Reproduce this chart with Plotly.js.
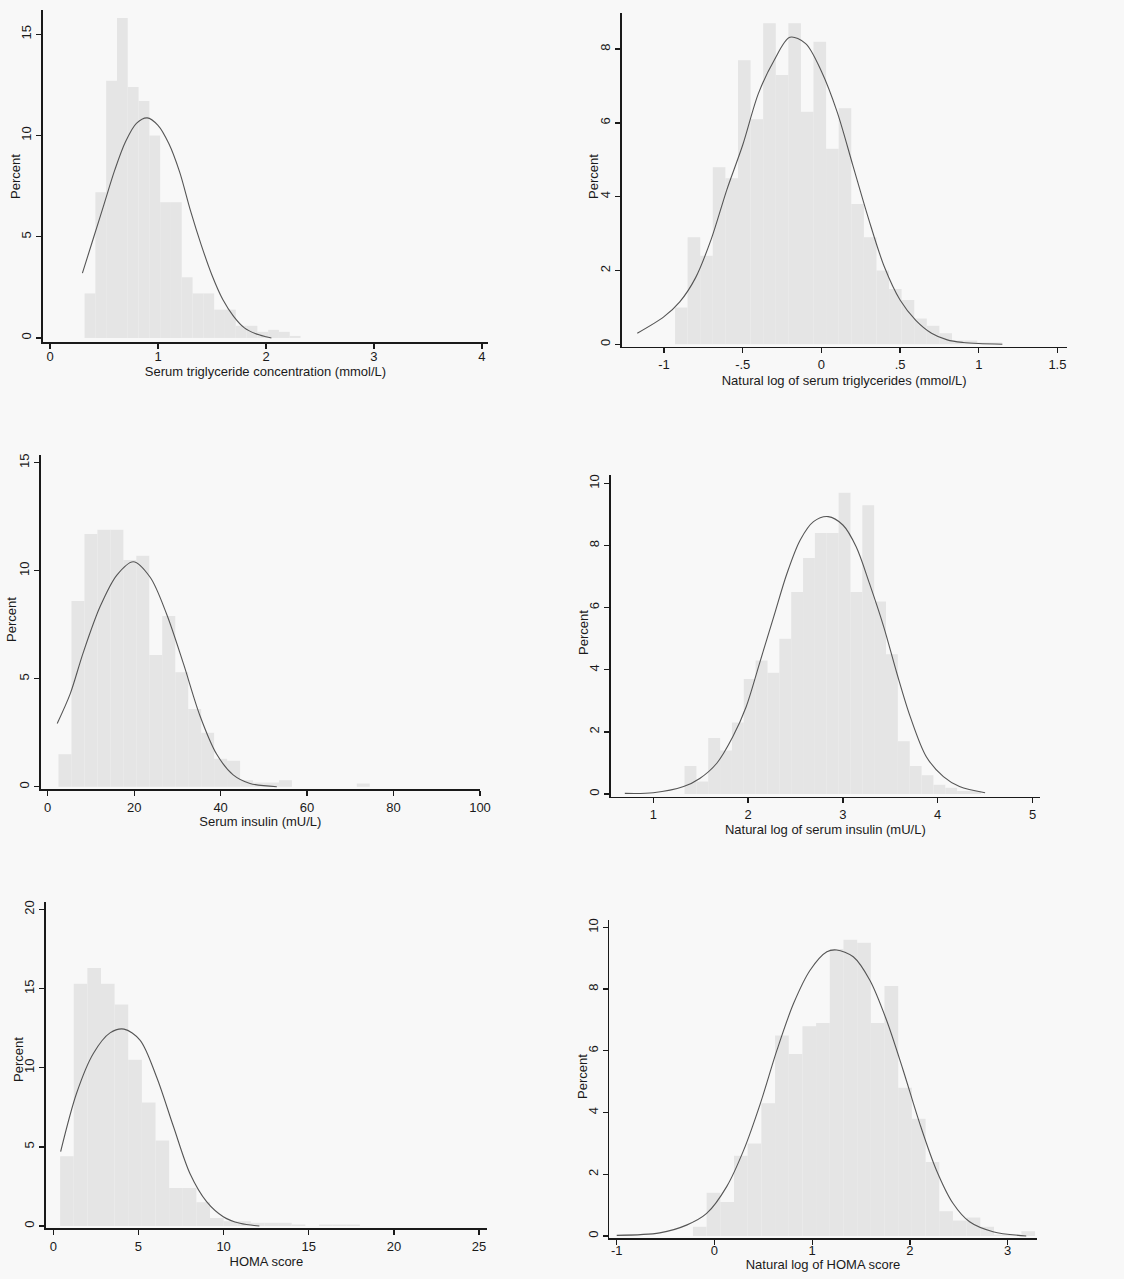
<!DOCTYPE html>
<html>
<head>
<meta charset="utf-8">
<script src="https://cdn.plot.ly/plotly-3.0.1.min.js"></script>
<style>
  html, body { margin: 0; padding: 0; background: #f8f8f8; }
  #chart { width: 1124px; height: 1279px; }
</style>
</head>
<body>
<div id="chart"></div>
<script>
// ---------- DATA ----------
// Panel 1: Serum triglyceride concentration (mmol/L)
const tgBinLeft  = [0.32,0.42,0.52,0.62,0.72,0.82,0.92,1.02,1.12,1.22,1.32,1.42,1.52,1.62,1.72,1.82,1.92,2.02,2.12,2.22];
const tgBinWidth = 0.1;
const tgPct      = [2.2,7.2,12.7,15.8,12.4,11.7,10.0,6.7,6.7,3.0,2.2,2.2,1.4,1.4,0.6,0.6,0.3,0.4,0.3,0.1];
const tgCurveX   = [0.3,0.4,0.5,0.6,0.7,0.8,0.9,1.0,1.1,1.2,1.3,1.4,1.5,1.6,1.7,1.8,1.9,2.0,2.05];
const tgCurveY   = [3.2,4.9,6.6,8.3,9.7,10.6,10.87,10.5,9.6,8.2,6.3,4.6,3.1,1.9,1.07,0.5,0.22,0.06,0.0];

// Panel 2: Natural log of serum triglycerides (mmol/L)
const lnTgBinLeft  = [-0.93,-0.85,-0.77,-0.69,-0.61,-0.53,-0.45,-0.37,-0.29,-0.21,-0.13,-0.05,0.03,0.11,0.19,0.27,0.35,0.43,0.51,0.59,0.67,0.75,0.83,0.91,0.99,1.07];
const lnTgBinWidth = 0.08;
const lnTgPct      = [1.0,2.9,2.4,4.8,4.5,7.7,6.1,8.7,7.3,8.7,6.3,8.2,5.3,6.4,3.8,2.9,2.0,1.5,1.2,0.7,0.5,0.3,0.1,0.1,0.05,0.05];
const lnTgCurveX   = [-1.17,-1.0,-0.9,-0.8,-0.7,-0.6,-0.5,-0.4,-0.3,-0.2,-0.1,0.0,0.1,0.2,0.3,0.4,0.5,0.6,0.7,0.8,0.9,1.0,1.15];
const lnTgCurveY   = [0.30,0.75,1.15,1.8,2.85,4.2,5.4,6.8,7.7,8.32,8.15,7.4,6.3,4.85,3.4,2.1,1.2,0.65,0.3,0.12,0.05,0.02,0.0];

// Panel 3: Serum insulin (mU/L)
const insBinLeft  = [2.5,5.5,8.5,11.5,14.5,17.5,20.5,23.5,26.5,29.5,32.5,35.5,38.5,41.5,44.5,47.5,50.5,53.5,56.5,59.5,62.5,65.5,68.5,71.5];
const insBinWidth = 3;
const insPct      = [1.5,8.6,11.7,11.9,11.9,10.5,10.7,6.1,7.9,5.3,3.6,2.5,1.3,1.2,0.3,0.2,0.2,0.3,0,0,0,0,0,0.15];
const insCurveX   = [2.2,5.2,8.2,12.1,16.0,19.8,23.7,27.5,31.4,35.2,39.1,42.9,46.8,53.0];
const insCurveY   = [2.93,4.3,6.2,8.33,9.8,10.42,9.7,8.0,5.7,3.3,1.5,0.55,0.15,0.0];

// Panel 4: Natural log of serum insulin (mU/L)
const lnInsBinLeft  = [1.33,1.455,1.58,1.705,1.83,1.955,2.08,2.205,2.33,2.455,2.58,2.705,2.83,2.955,3.08,3.205,3.33,3.455,3.58,3.705,3.83,3.955,4.08,4.205,4.33];
const lnInsBinWidth = 0.125;
const lnInsPct      = [0.9,0.4,1.8,1.4,2.3,3.7,4.3,3.9,5.0,6.5,7.6,8.4,8.4,9.7,6.5,9.3,6.2,4.5,1.7,0.9,0.6,0.3,0.2,0.1,0.1];
const lnInsCurveX   = [0.7,1.0,1.32,1.49,1.67,1.84,1.98,2.12,2.27,2.41,2.55,2.69,2.845,3.0,3.14,3.28,3.43,3.57,3.71,3.88,4.06,4.23,4.5];
const lnInsCurveY   = [0.02,0.04,0.24,0.5,0.99,1.85,2.81,4.2,5.7,7.1,8.18,8.77,8.93,8.66,7.96,6.78,5.39,3.88,2.49,1.2,0.56,0.24,0.04];

// Panel 5: HOMA score
const homaBinLeft  = [0.4,1.2,2.0,2.8,3.6,4.4,5.2,6.0,6.8,7.6,8.4,9.2,10.0,10.8,11.6,12.4,13.2,14.0,14.8,15.6,16.4,17.2];
const homaBinWidth = 0.8;
const homaPct      = [4.4,15.3,16.3,15.3,14.0,10.5,7.8,5.4,2.4,2.4,1.5,0.5,0.3,0.3,0.2,0.2,0.2,0.1,0,0.1,0.1,0.1];
const homaCurveX   = [0.43,1.37,2.35,3.33,4.15,5.09,6.07,7.05,8.03,9.0,9.98,10.96,12.1];
const homaCurveY   = [4.7,8.4,10.9,12.2,12.44,11.75,9.4,6.3,3.3,1.54,0.59,0.17,0.0];

// Panel 6: Natural log of HOMA score
const lnHomaBinLeft  = [-0.22,-0.08,0.06,0.2,0.34,0.48,0.62,0.76,0.9,1.04,1.18,1.32,1.46,1.6,1.74,1.88,2.02,2.16,2.3,2.44,2.58,2.72,2.86,3.0,3.14];
const lnHomaBinWidth = 0.14;
const lnHomaPct      = [0.3,1.4,1.1,2.6,3.0,4.3,6.5,5.9,6.8,6.9,9.3,9.6,9.5,6.9,8.1,4.8,3.8,2.4,0.8,0.5,0.6,0.3,0.05,0.05,0.15];
const lnHomaCurveX   = [-1.0,-0.56,-0.28,-0.08,0.125,0.3,0.47,0.64,0.81,0.98,1.15,1.25,1.42,1.59,1.76,1.93,2.1,2.27,2.44,2.61,2.85,3.19];
const lnHomaCurveY   = [0.02,0.1,0.36,0.73,1.6,2.79,4.3,6.03,7.54,8.62,9.21,9.27,9.05,8.29,7.0,5.38,3.65,2.14,1.06,0.46,0.14,0.0];

// Tick labels / titles
const xTitles = [
  'Serum triglyceride concentration (mmol/L)',
  'Natural log of serum triglycerides (mmol/L)',
  'Serum insulin (mU/L)',
  'Natural log of serum insulin (mU/L)',
  'HOMA score',
  'Natural log of HOMA score'
];
const xTickVals = [[0,1,2,3,4],[-1,-0.5,0,0.5,1,1.5],[0,20,40,60,80,100],[1,2,3,4,5],[0,5,10,15,20,25],[-1,0,1,2,3]];
const xTickText = [['0','1','2','3','4'],['-1','-.5','0','.5','1','1.5'],['0','20','40','60','80','100'],['1','2','3','4','5'],['0','5','10','15','20','25'],['-1','0','1','2','3']];
const yTickVals = [[0,5,10,15],[0,2,4,6,8],[0,5,10,15],[0,2,4,6,8,10],[0,5,10,15,20],[0,2,4,6,8,10]];
const yTitle = 'Percent';

// ---------- LAYOUT GEOMETRY ----------
const W = 1124, H = 1279;
// pixel boxes [left, right, top, bottom] and axis ranges
const boxes = [
  [43, 488, 10, 342],
  [621.7, 1066.7, 13.3, 346.7],
  [40.7, 480, 455, 789.3],
  [610.7, 1040, 475, 796.7],
  [46, 486.7, 901.7, 1228.3],
  [609.3, 1036.7, 920, 1238.3]
];
const xRanges = [[-0.065, 4.056],[-1.269, 1.559],[-1.62, 100.0],[0.551, 5.079],[-0.43, 25.45],[-1.076, 3.297]];
const yRanges = [[-0.2, 16.2],[-0.065, 8.97],[-0.12, 15.36],[-0.087, 10.27],[-0.145, 20.49],[-0.075, 10.24]];
const xTitleStandoff = [1, 5, 2, 0, 4, 1];
const xLabelStandoff = [-3, 0, 0, 0, 0, -6];
// "Percent" label centres, pixels [x, y]
const yTitlePos = [[15, 177], [593, 177], [12, 620], [583, 633], [18, 1060], [582, 1077]];

const panels = [
  [tgBinLeft, tgBinWidth, tgPct, tgCurveX, tgCurveY],
  [lnTgBinLeft, lnTgBinWidth, lnTgPct, lnTgCurveX, lnTgCurveY],
  [insBinLeft, insBinWidth, insPct, insCurveX, insCurveY],
  [lnInsBinLeft, lnInsBinWidth, lnInsPct, lnInsCurveX, lnInsCurveY],
  [homaBinLeft, homaBinWidth, homaPct, homaCurveX, homaCurveY],
  [lnHomaBinLeft, lnHomaBinWidth, lnHomaPct, lnHomaCurveX, lnHomaCurveY]
];

const FONT = 'Liberation Sans, Arial, Helvetica, sans-serif';
const traces = [];
const annotations = [];
const layout = {
  width: W, height: H,
  margin: {l: 0, r: 0, t: 0, b: 0},
  paper_bgcolor: '#f8f8f8',
  plot_bgcolor: 'rgba(0,0,0,0)',
  showlegend: false,
  font: {family: FONT, size: 13, color: '#222'},
  barmode: 'overlay',
  annotations: annotations
};

panels.forEach((p, i) => {
  const n = i === 0 ? '' : String(i + 1);
  const xa = 'x' + n, ya = 'y' + n;
  traces.push({
    type: 'bar', x: p[0], y: p[2], width: p[1], offset: 0,
    xaxis: xa, yaxis: ya,
    marker: {color: '#e5e5e5', line: {width: 0}},
    hoverinfo: 'x+y'
  });
  traces.push({
    type: 'scatter', mode: 'lines', x: p[3], y: p[4],
    xaxis: xa, yaxis: ya,
    line: {color: '#555555', width: 1.1, shape: 'spline', smoothing: 0.9}
  });
  const b = boxes[i];
  const common = {
    showline: true, linecolor: '#1a1a1a', linewidth: 1.6,
    ticks: 'outside', ticklen: 5, tickwidth: 1.3, tickcolor: '#1a1a1a',
    showgrid: false, zeroline: false, fixedrange: true,
    tickfont: {family: FONT, size: 13, color: '#1a1a1a'}
  };
  layout['xaxis' + n] = Object.assign({}, common, {
    domain: [b[0] / W, b[1] / W],
    range: xRanges[i], anchor: ya,
    tickmode: 'array', tickvals: xTickVals[i], ticktext: xTickText[i],
    ticklabelstandoff: xLabelStandoff[i],
    title: {text: xTitles[i], standoff: xTitleStandoff[i], font: {family: FONT, size: 13, color: '#1a1a1a'}}
  });
  layout['yaxis' + n] = Object.assign({}, common, {
    domain: [1 - b[3] / H, 1 - b[2] / H],
    range: yRanges[i], anchor: xa,
    tickmode: 'array', tickvals: yTickVals[i], tickangle: -90
  });
  annotations.push({
    text: yTitle, textangle: -90, showarrow: false,
    xref: 'paper', yref: 'paper',
    x: yTitlePos[i][0] / W, y: 1 - yTitlePos[i][1] / H,
    xanchor: 'center', yanchor: 'middle',
    font: {family: FONT, size: 13, color: '#1a1a1a'}
  });
});

Plotly.newPlot('chart', traces, layout, {staticPlot: true, displayModeBar: false});
</script>
</body>
</html>
